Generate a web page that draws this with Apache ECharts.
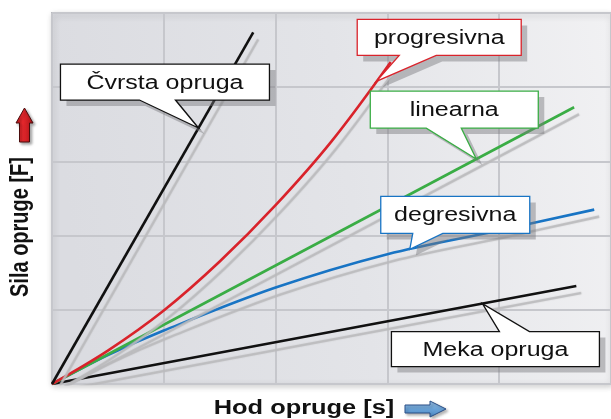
<!DOCTYPE html>
<html>
<head>
<meta charset="utf-8">
<script src="https://cdn.jsdelivr.net/npm/echarts@6/dist/echarts.min.js"></script>
<style>
html,body{margin:0;padding:0;background:#fff;}
#c{width:611px;height:419px;}
</style>
</head>
<body>
<div id="c"></div>
<script>
// ---- data (x = hod opruge, y = sila opruge; grid units) ----
const xTicks = [0, 1, 2, 3, 4, 5];
const yTicks = [0, 1, 2, 3, 4, 5];
const steepData = [[0, 0], [1.8, 4.74]];                 // Čvrsta opruga
const progData  = [[0, 0], [0.5, 0.45], [1, 0.99], [1.5, 1.65], [2, 2.41], [2.5, 3.27], [3.03, 4.34]]; // progresivna
const linData   = [[0, 0], [4.67, 3.73]];                // linearna
const degData   = [[0, 0], [0.5, 0.39], [1, 0.72], [2, 1.30], [3, 1.75], [4, 2.07], [4.85, 2.35]];    // degresivna
const softData  = [[0, 0], [4.69, 1.32]];                // Meka opruga
const seriesNames = ['Čvrsta opruga', 'progresivna', 'linearna', 'degresivna', 'Meka opruga'];
const seriesColors = ['#111111', '#d9232b', '#3aad45', '#1874c4', '#111111'];
const seriesData = [steepData, progData, linData, degData, softData];
const calloutX = [1.31, 2.9, 3.795, 3.2, 3.85];          // where each callout points on its curve
const xTitle = 'Hod opruge [s]';
const yTitle = 'Sila opruge [F]';

const chart = echarts.init(document.getElementById('c'), null, {renderer: 'canvas'});

const series = seriesData.map((d, i) => ({
  name: seriesNames[i],
  type: 'line',
  data: d,
  smooth: d.length > 2 ? 0.35 : false,
  symbol: 'none',
  lineStyle: {
    color: seriesColors[i], width: 2.6,
    shadowColor: 'rgba(185,185,188,0.95)', shadowBlur: 1,
    shadowOffsetX: 5, shadowOffsetY: 7
  },
  z: 3 + (4 - i)
}));

chart.setOption({
  animation: false,
  grid: {
    left: 52, top: 13, right: -1, bottom: 35,
    show: true,
    backgroundColor: new echarts.graphic.LinearGradient(0, 0.2, 1, 0, [
      {offset: 0, color: '#dbdce1'},
      {offset: 0.5, color: '#e3e4e8'},
      {offset: 1, color: '#f1f1f3'}
    ]),
    borderColor: '#b9babf', borderWidth: 2,
    shadowColor: 'rgba(0,0,0,0.18)', shadowBlur: 6, shadowOffsetX: 1, shadowOffsetY: 2
  },
  xAxis: {
    type: 'value', min: xTicks[0], max: xTicks[xTicks.length - 1], interval: 1,
    axisLine: {show: false}, axisTick: {show: false}, axisLabel: {show: false},
    splitLine: {show: true, lineStyle: {color: '#c6c7cc', width: 2}}
  },
  yAxis: {
    type: 'value', min: yTicks[0], max: yTicks[yTicks.length - 1], interval: 1,
    axisLine: {show: false}, axisTick: {show: false}, axisLabel: {show: false},
    splitLine: {show: true, lineStyle: {color: '#c6c7cc', width: 2}}
  },
  series: series
});

// --- callouts ---
function interpY(d, x) {
  for (let i = 1; i < d.length; i++) {
    if (x <= d[i][0]) {
      const t = (x - d[i - 1][0]) / (d[i][0] - d[i - 1][0]);
      return d[i - 1][1] + t * (d[i][1] - d[i - 1][1]);
    }
  }
  return d[d.length - 1][1];
}
// box geometry relative to the tip (pixels): left, top, width, height, pointer base b1, b2
const boxes = [
  {l: -138, t: -64, w: 209, h: 36, b1: -59, b2: -23, up: false},
  {l: -19,  t: -62, w: 164, h: 36, b1: 23,  b2: 60,  up: false},
  {l: -106, t: -68, w: 168, h: 37, b1: -50, b2: -15, up: false},
  {l: -29,  t: -53, w: 149, h: 37, b1: 3,   b2: 33,  up: false},
  {l: -91,  t: 28,  w: 208, h: 35, b1: 17,  b2: 47,  up: true}
];
const graphics = [];
const FONT = '20px "Liberation Sans", Arial, sans-serif';
const SX = 1.25;
boxes.forEach((b, i) => {
  const cx = calloutX[i];
  const p = chart.convertToPixel({gridIndex: 0}, [cx, interpY(seriesData[i], cx)]);
  const tx = p[0], ty = p[1];
  const L = tx + b.l, T = ty + b.t, R = L + b.w, B = T + b.h;
  let pts;
  if (!b.up) {
    pts = [[L, T], [R, T], [R, B], [tx + b.b2, B], [tx, ty], [tx + b.b1, B], [L, B]];
  } else {
    pts = [[L, T], [tx + b.b1, T], [tx, ty], [tx + b.b2, T], [R, T], [R, B], [L, B]];
  }
  graphics.push({
    type: 'polygon', x: 6, y: 6, z: 20, silent: true,
    shape: {points: pts},
    style: {fill: 'rgba(120,120,125,0.45)', stroke: null}
  });
  graphics.push({
    type: 'polygon', z: 21, silent: true,
    shape: {points: pts},
    style: {fill: '#ffffff', stroke: i === 0 || i === 4 ? '#111' : seriesColors[i], lineWidth: 1.3}
  });
  graphics.push({
    type: 'text', z: 22, silent: true,
    x: (L + R) / 2, y: (T + B) / 2 + 1, scaleX: SX,
    style: {text: seriesNames[i], font: FONT, fill: '#111',
      align: 'center', verticalAlign: 'middle', textAlign: 'center', textVerticalAlign: 'middle'}
  });
});

// axis titles
graphics.push({
  type: 'text', z: 22, silent: true, x: 21, y: 227, rotation: Math.PI / 2, scaleY: 1.25,
  style: {text: yTitle, font: 'bold 20px "Liberation Sans", Arial, sans-serif', fill: '#111',
    align: 'center', verticalAlign: 'middle', textAlign: 'center', textVerticalAlign: 'middle'}
});
graphics.push({
  type: 'text', z: 22, silent: true, x: 304, y: 408, scaleX: 1.27,
  style: {text: xTitle, font: 'bold 20px "Liberation Sans", Arial, sans-serif', fill: '#111',
    align: 'center', verticalAlign: 'middle', textAlign: 'center', textVerticalAlign: 'middle'}
});
// red up arrow
graphics.push({
  type: 'polygon', z: 22, silent: true,
  shape: {points: [[24.5, 108], [33, 123], [29.5, 123], [29.5, 142], [19.5, 142], [19.5, 123], [16, 123]]},
  style: {
    fill: new echarts.graphic.LinearGradient(0, 0, 1, 0, [{offset: 0, color: '#b3161b'}, {offset: 0.4, color: '#e8282d'}, {offset: 1, color: '#a81216'}]),
    stroke: '#4a0c0c', lineWidth: 1,
    shadowColor: 'rgba(0,0,0,0.35)', shadowBlur: 3, shadowOffsetX: 2, shadowOffsetY: 2
  }
});
// blue right arrow
graphics.push({
  type: 'polygon', z: 22, silent: true,
  shape: {points: [[405, 405], [430, 405], [430, 401], [446, 409], [430, 417], [430, 413], [405, 413]]},
  style: {
    fill: new echarts.graphic.LinearGradient(0, 0, 0, 1, [{offset: 0, color: '#9cc4ea'}, {offset: 0.5, color: '#6aa3d8'}, {offset: 1, color: '#4a86c4'}]),
    stroke: '#2a4f86', lineWidth: 1,
    shadowColor: 'rgba(0,0,0,0.3)', shadowBlur: 3, shadowOffsetX: 2, shadowOffsetY: 2
  }
});
chart.setOption({graphic: {elements: graphics}});
</script>
</body>
</html>
